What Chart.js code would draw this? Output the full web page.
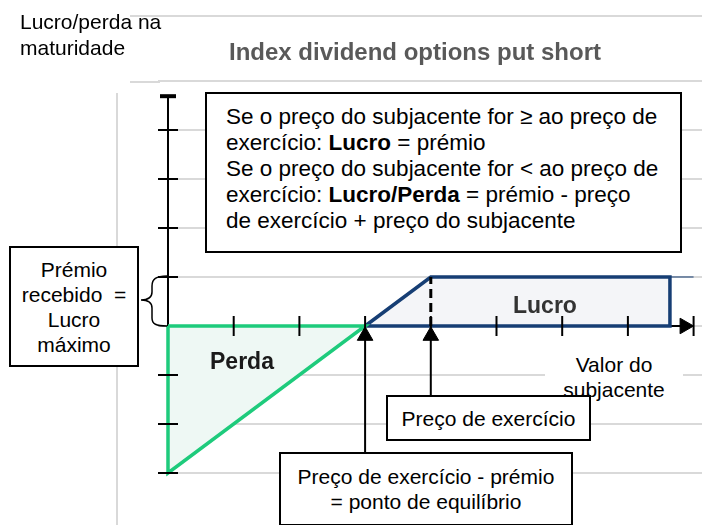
<!DOCTYPE html>
<html>
<head>
<meta charset="utf-8">
<script src="https://cdn.jsdelivr.net/npm/chart.js@4"></script>
<style>
  html, body { margin: 0; padding: 0; background: #fff; }
  #wrap { position: relative; width: 702px; height: 525px; font-family: "Liberation Sans", Arial, sans-serif; color: #000; overflow: hidden; }
  #chart { position: absolute; left: 0; top: 0; }
  .lbl { position: absolute; white-space: nowrap; }
  .box { position: absolute; box-sizing: border-box; border: 2px solid #000; background: #fff; font-size: 21px; line-height: 25px; }
  .center { display: flex; flex-direction: column; align-items: center; justify-content: center; text-align: center; }
  .gline { position: absolute; background: #d9d9d9; }
</style>
</head>
<body>
<div id="wrap">
  <canvas id="chart" width="702" height="525"></canvas>

  <div class="gline" style="left:116px; top:93px; width:2px; height:432px;"></div>
  <div class="gline" style="left:130px; top:15px; width:30px; height:2px;"></div>
  <div class="gline" style="left:130px; top:81px; width:30px; height:2px;"></div>

  <div class="lbl" style="left:20px; top:9px; font-size:21px; line-height:26px;">Lucro/perda na<br>maturidade</div>
  <div class="lbl" style="left:229px; top:38px; font-size:24px; font-weight:bold; color:#595959;">Index dividend options put short</div>

  <div class="box" style="left:205px; top:92px; width:477px; height:161px; padding:10px 0 0 19px; font-size:22.5px; line-height:26px;">
    Se o preço do subjacente for ≥ ao preço de<br>
    exercício: <b>Lucro</b> = prémio<br>
    Se o preço do subjacente for &lt; ao preço de<br>
    exercício: <b>Lucro/Perda</b> = prémio - preço<br>
    de exercício + preço do subjacente
  </div>

  <div class="box center" style="left:9px; top:246px; width:130px; height:121px;">
    <div>Prémio</div><div>recebido&nbsp; =</div><div>Lucro</div><div>máximo</div>
  </div>

  <svg style="position:absolute; left:0; top:0;" width="702" height="525">
    <path d="M167 276 C156 276 152 279 152 286 L152 292 C152 297 148 300 141 300 C148 300 152 303 152 308 L152 318 C152 324 156 326 167 326" fill="none" stroke="#000" stroke-width="1.5"/>
  </svg>

  <div class="lbl" style="left:210px; top:348px; font-size:23px; font-weight:bold; color:#1a1a1a;">Perda</div>
  <div class="lbl" style="left:513px; top:292px; font-size:23px; font-weight:bold; color:#333;">Lucro</div>

  <div class="lbl" style="left:545px; top:352px; width:138px; background:#fff; text-align:center; font-size:21px; line-height:25px;">Valor do<br>subjacente</div>

  <div class="box center" style="left:386px; top:395px; width:205px; height:46px;">Preço de exercício</div>
  <div class="box center" style="left:279px; top:452px; width:294px; height:74px;">
    <div>Preço de exercício - prémio</div><div>= ponto de equilíbrio</div>
  </div>
</div>

<script>
// payoff of a short put: premium = 1, strike = 4, break-even = 3
const premium = 1;
const strike = 4;
const breakEven = 3;
const maxLoss = -3;
const xEnd = 8;
const lucroEnd = 7.64;

const lossX = [0, 0, breakEven, 0];
const lossY = [0, maxLoss, 0, 0];
const gainX = [breakEven, strike, lucroEnd, lucroEnd, breakEven];
const gainY = [0, premium, premium, 0, 0];

const xTickVals = [1, 2, 3, 4, 5, 6, 7, 8];
const yTickVals = [-3, -2, -1, 1, 2, 3, 4];
const gridVals = [-3, -2, -1, 0, 1, 2, 3, 4, 5];
const yTop = 4.69;

const toPts = (xs, ys) => xs.map((x, i) => ({ x: x, y: ys[i] }));

const line = (data, color, width, order, extra) => Object.assign({
  data: data, showLine: true, borderColor: color, borderWidth: width,
  pointRadius: 0, fill: false, clip: false, order: order
}, extra || {});

const marks = (data, style, rot, radius, width, order) => ({
  data: data, showLine: false, pointStyle: style, rotation: rot,
  pointRadius: radius, borderColor: '#000', backgroundColor: '#000',
  borderWidth: width, clip: false, order: order
});

new Chart(document.getElementById('chart'), {
  type: 'scatter',
  data: {
    datasets: [
      marks([{ x: breakEven, y: -0.2 }, { x: strike, y: -0.2 }], 'triangle', 0, 9, 1, 0),
      marks([{ x: xEnd - 0.137, y: 0 }], 'triangle', 90, 9, 1, 0),
      marks([{ x: 0, y: yTop }], 'line', 0, 8, 4, 0),
      marks(xTickVals.map(x => ({ x: x, y: 0 })), 'line', 90, 10, 2, 1),
      marks(yTickVals.map(y => ({ x: 0, y: y })), 'line', 0, 10, 2, 1),
      line([{ x: strike, y: 0 }, { x: strike, y: premium }], '#000', 3, 2, { borderDash: [9, 5] }),
      line([{ x: breakEven, y: -2.7 }, { x: breakEven, y: -0.2 }], '#000', 2, 2),
      line([{ x: strike, y: -1.5 }, { x: strike, y: -0.2 }], '#000', 2, 2),
      line(toPts(lossX, lossY), '#1ecb7c', 3.5, 3, { fill: 'shape', backgroundColor: '#eef8f4' }),
      line(toPts(gainX, gainY), '#163e74', 3.5, 3, { fill: 'shape', backgroundColor: '#f4f5f8' }),
      line([{ x: lucroEnd, y: premium }, { x: xEnd, y: premium }], '#163e74', 1, 4),
      line([{ x: 0, y: maxLoss }, { x: 0, y: yTop }], '#000', 2, 5),
      line([{ x: 0, y: 0 }, { x: xEnd - 0.1, y: 0 }], '#000', 2, 5)
    ]
  },
  options: {
    responsive: false,
    animation: false,
    events: [],
    layout: { autoPadding: false, padding: { left: 158, right: 0, top: 16, bottom: 3 } },
    plugins: { legend: { display: false }, tooltip: { enabled: false } },
    scales: {
      x: { type: 'linear', min: -0.1522, max: 8.128, display: false },
      y: {
        type: 'linear', min: -4, max: 6.3265,
        afterBuildTicks: s => { s.ticks = gridVals.concat([6.3265]).map(v => ({ value: v })); },
        ticks: { display: false },
        border: { display: false },
        grid: { color: '#d9d9d9', lineWidth: 2, drawTicks: false }
      }
    }
  }
});
</script>
</body>
</html>
